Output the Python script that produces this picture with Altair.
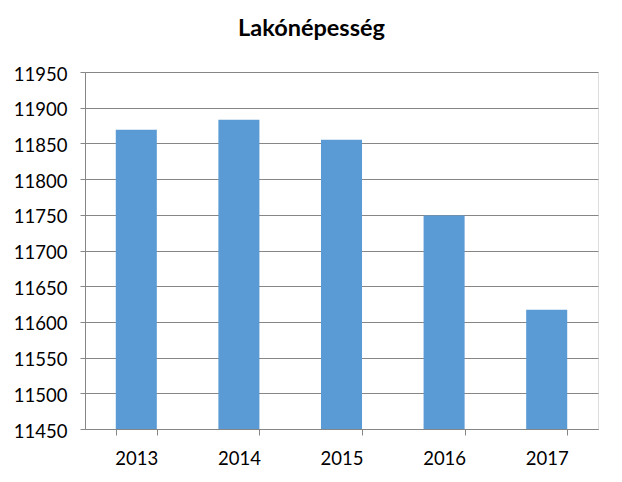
import altair as alt
import pandas as pd

years = ["2013", "2014", "2015", "2016", "2017"]
population = [11869, 11883, 11855, 11749, 11617]
y_ticks = [11450, 11500, 11550, 11600, 11650, 11700, 11750, 11800, 11850, 11900, 11950]

df = pd.DataFrame({"year": years, "pop": population})

GRID = "#868686"
FONT = "Lato"

chart = alt.Chart(df).mark_bar(color="#5B9BD5", clip=True).encode(
    x=alt.X("year:N", sort=years, title=None,
            scale=alt.Scale(paddingInner=0.6, paddingOuter=0.3),
            axis=alt.Axis(labelAngle=0, tickBand="extent", domainColor=GRID,
                          tickColor=GRID, tickSize=6, labelPadding=14,
                          labelFont=FONT, labelFontSize=18.5, labelColor="#000000",
                          grid=False)),
    y=alt.Y("pop:Q", title=None,
            scale=alt.Scale(domain=[11450, 11950], nice=False, zero=False),
            axis=alt.Axis(values=y_ticks, format="d", domainColor=GRID, tickColor=GRID,
                          tickSize=5, labelPadding=13, gridColor=GRID,
                          gridOpacity=1, labelFont=FONT, labelFontSize=18.5,
                          labelColor="#000000", labelBaseline="middle", labelOffset=2)),
).properties(
    width=513,
    height=357,
    title=alt.TitleParams("Lakónépesség", font=FONT, fontSize=23.5, fontWeight="bold",
                          color="#000000", anchor="middle", dx=-30, offset=6,
                          baseline="alphabetic"),
    autosize=alt.AutoSizeParams(type="none"),
    padding={"left": 77, "top": 64, "right": 16, "bottom": 45},
).configure_view(stroke=None).configure(background="#ffffff")

chart.save("out.html", embed_options={"renderer": "svg", "actions": False})
